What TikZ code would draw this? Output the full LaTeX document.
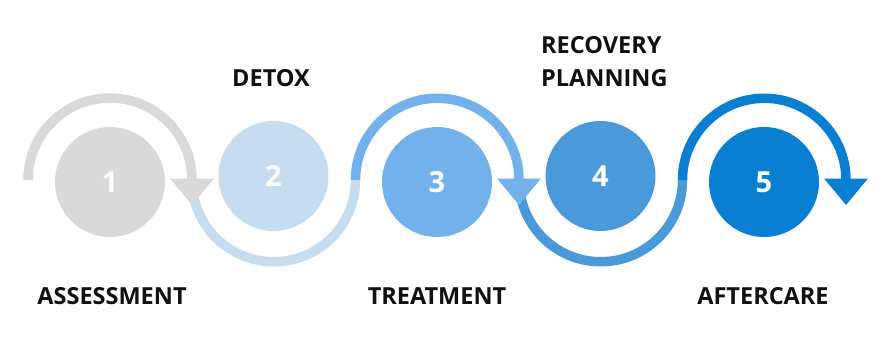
\documentclass[tikz,border=0pt]{standalone}
\usepackage{fontspec}
\setmainfont{Open Sans}
\definecolor{cgray}{HTML}{D9D9D9}
\definecolor{cpale}{HTML}{C8DCEF}
\definecolor{clight}{HTML}{72B1EA}
\definecolor{cmid}{HTML}{4A9AD9}
\definecolor{cdeep}{HTML}{0A7FD1}
\definecolor{ctext}{HTML}{111111}
\tikzset{
  stepcircle/.style={circle, minimum size=110pt, inner sep=0pt, text=white,
    font=\fontsize{29}{32}\selectfont\bfseries},
  band/.style={line width=9.5pt, line cap=butt},
  steplabel/.style={text=ctext, inner sep=0pt, font=\fontsize{23.5}{33}\selectfont\bfseries},
}
\newcommand{\arrowtri}[2]{%
  \fill[#2] ([xshift=-22pt,yshift=1.5pt]#1) -- ([xshift=22pt,yshift=1.5pt]#1) -- ([yshift=-25pt]#1) -- cycle;}
\begin{document}
\begin{tikzpicture}[x=1pt,y=1pt]
\useasboundingbox[fill=white] (0,0) rectangle (886,346);
% junction points
\coordinate (j0) at (28,166);
\coordinate (j1) at (192,166);
\coordinate (j2) at (355.5,166);
\coordinate (j3) at (519,166);
\coordinate (j4) at (682.5,166);
\coordinate (j5) at (846,166);
% circles
\node[stepcircle, fill=cgray]  (c1) at (110,164)   {1};
\node[stepcircle, fill=cpale]  (c2) at (273.5,170) {2};
\node[stepcircle, fill=clight] (c3) at (437,164)   {3};
\node[stepcircle, fill=cmid]   (c4) at (600.5,170) {4};
\node[stepcircle, fill=cdeep]  (c5) at (764,164)   {5};
% bands
\draw[band, cgray]  (j0) arc[start angle=180, end angle=0, radius=82];
\draw[band, cpale]  (j1) arc[start angle=180, end angle=360, radius=81.75];
\draw[band, clight] (j2) arc[start angle=180, end angle=0, radius=81.75];
\draw[band, cmid]   (j3) arc[start angle=180, end angle=360, radius=81.75];
\draw[band, cdeep]  (j4) arc[start angle=180, end angle=0, radius=81.75];
% arrow heads
\arrowtri{j1}{cgray}
\arrowtri{j3}{clight}
\arrowtri{j5}{cdeep}
% labels
\node[steplabel, anchor=base] (l1) at (112,42)  {ASSESSMENT};
\node[steplabel, anchor=base] (l2) at (271,259) {DETOX};
\node[steplabel, anchor=base] (l3) at (437,42)  {TREATMENT};
\node[steplabel, anchor=base west, align=left] (l4) at (541,259) {RECOVERY\\PLANNING};
\node[steplabel, anchor=base] (l5) at (763,42)  {AFTERCARE};
\end{tikzpicture}
\end{document}
